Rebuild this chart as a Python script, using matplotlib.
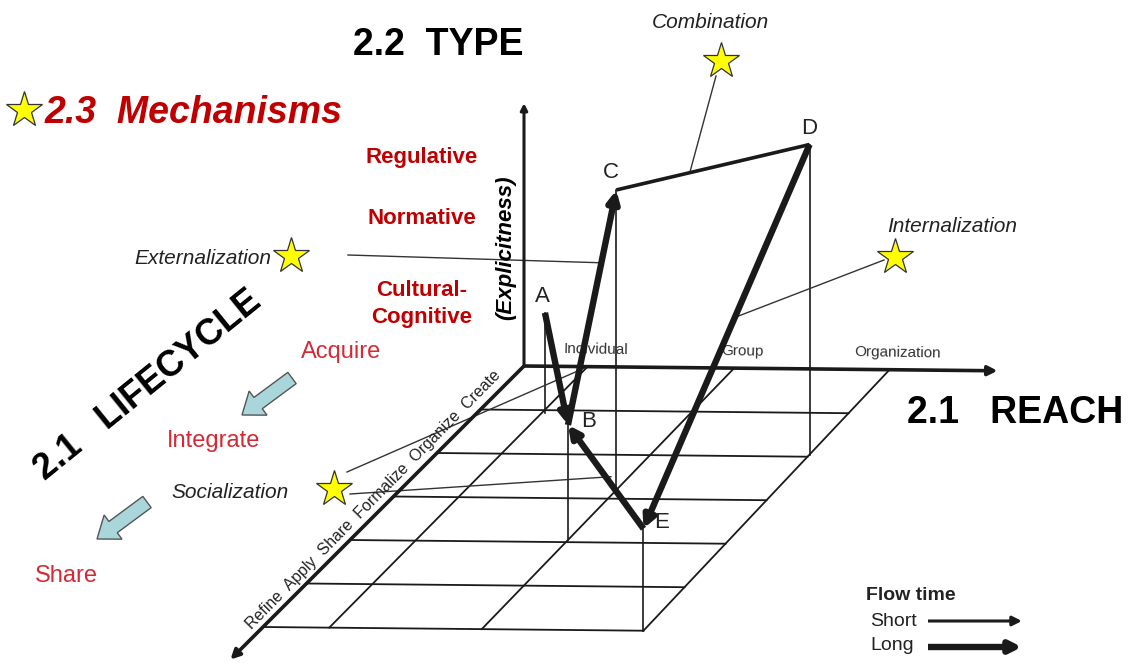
import matplotlib
matplotlib.use("Agg")
import matplotlib.pyplot as plt
from matplotlib.patches import FancyArrowPatch, FancyArrow

plt.rcParams["font.family"] = ["Liberation Sans", "DejaVu Sans"]

# ── data ─────────────────────────────────────────────────────────────────
# REACH axis ticks (reach units) and their names
reach_ticks = [0.0, 0.43, 1.42, 2.47]
reach_labels = ["", "Individual", "Group", "Organization"]
# LIFECYCLE axis: six rows of the floor grid
lifecycle_labels = ["Create", "Organize", "Formalize", "Share", "Apply", "Refine"]
n_rows = len(lifecycle_labels)

# knowledge path points: (reach, lifecycle, explicitness)
pt_names = ["A", "B", "C", "D", "E"]
pt_reach = [0.45, 1.42, 1.42, 2.47, 2.47]
pt_life = [1.06, 3.95, 2.80, 1.95, 6.00]
pt_expl = [1.00, 1.15, 3.00, 3.10, 1.02]

# path segments and their flow time
seg_from = ["A", "C", "B", "D", "E"]
seg_to = ["B", "D", "C", "E", "B"]
seg_flow = ["long", "short", "long", "long", "long"]

mechanisms = ["Regulative", "Normative", "Cultural-\nCognitive"]
lifecycle_steps = ["Acquire", "Integrate", "Share"]

# ── projection (oblique 3D → picture, slight widening towards the front) ─
ORIGIN = (524, 366)
UR = (148, 1.5)    # per reach unit
UL = (-43.5, 43.5) # per lifecycle row
UH = 100           # per explicitness unit
WIDEN = 0.0068     # reach scale growth per lifecycle row


def proj(r, l, h=0.0):
    k = 1 + WIDEN * l
    return (ORIGIN[0] + r * UR[0] * k + l * UL[0],
            ORIGIN[1] + r * UR[1] + l * UL[1] - h * UH)


pts = {n: (r, l, h) for n, r, l, h in zip(pt_names, pt_reach, pt_life, pt_expl)}
scr = {n: proj(*p) for n, p in pts.items()}


def along(a, b, t):
    (x0, y0), (x1, y1) = scr[a], scr[b]
    return x0 + t * (x1 - x0), y0 + t * (y1 - y0)


RED = "#c00000"
PINK = "#d42a36"
INK = "#1a1a1a"

fig = plt.figure(figsize=(11.31, 6.64), dpi=100)
ax = fig.add_axes([0, 0, 1, 1])
ax.set_xlim(0, 1131)
ax.set_ylim(664, 0)
ax.axis("off")

# ── floor grid ───────────────────────────────────────────────────────────
r_max = reach_ticks[-1]
for i in range(n_rows + 1):
    x0, y0 = proj(0, i)
    x1, y1 = proj(r_max, i)
    ax.plot([x0, x1], [y0, y1], color=INK, lw=1.3)
for r in reach_ticks[1:]:
    x0, y0 = proj(r, 0)
    x1, y1 = proj(r, n_rows)
    ax.plot([x0, x1], [y0, y1], color=INK, lw=1.3)


# ── axes ─────────────────────────────────────────────────────────────────
def arrow(p0, p1, lw, head=True, ms=14, color=INK, z=3):
    a = FancyArrowPatch(p0, p1, arrowstyle="-|>" if head else "-",
                        mutation_scale=ms, lw=lw, color=color,
                        shrinkA=0, shrinkB=0, zorder=z, capstyle="butt")
    ax.add_patch(a)


arrow(proj(0, 0), proj(0, 0, 2.63), 2.2, ms=10)
arrow(proj(0, 0), proj(3.2, 0), 2.6, ms=14)
arrow(proj(0, 0), proj(0, 6.75), 2.6, ms=14)

for r, lab in zip(reach_ticks, reach_labels):
    if lab:
        x, y = proj(r, 0)
        ax.text(x + 8, y - 17, lab, fontsize=11, color="#333333",
                ha="center", va="center", rotation=-1)

lx0, ly0 = proj(0, 0.15)
lx1, ly1 = proj(0, 6.3)
ax.text((lx0 + lx1) / 2 - 10, (ly0 + ly1) / 2 - 7,
        "  ".join(lifecycle_labels[::-1]), fontsize=11.5, color="#222222",
        ha="center", va="center", rotation=45.5)

# ── drop lines from the points to the floor ──────────────────────────────
for n, (r, l, h) in pts.items():
    x0, y0 = proj(r, l, h)
    x1, y1 = proj(r, l)
    ax.plot([x0, x1], [y0, y1], color=INK, lw=1.2)

# ── knowledge path ───────────────────────────────────────────────────────
for a, b, f in zip(seg_from, seg_to, seg_flow):
    if f == "long":
        arrow(scr[a], scr[b], 4.6, ms=17, z=5)
    else:
        arrow(scr[a], scr[b], 2.6, head=False, z=5)

label_off = {"A": (-3, -16), "B": (21, -3), "C": (-5, -17), "D": (0, -16), "E": (18, -6)}
for n in pt_names:
    x, y = scr[n]
    dx, dy = label_off[n]
    ax.text(x + dx, y + dy, n, fontsize=16, color="#222222",
            ha="center", va="center")

# ── leader lines + stars ─────────────────────────────────────────────────
LEAD = dict(color="#333333", lw=1.0)
star = dict(marker="*", ms=27, mfc="#ffff00", mec="#333333", mew=0.9,
            ls="none", zorder=6)

# Combination
cx, cy = along("C", "D", 0.38)
ax.plot([716, cx], [76, cy], **LEAD)
ax.plot([721], [61], **star)
ax.text(710, 22, "Combination", fontsize=15, style="italic",
        color="#222222", ha="center", va="center")

# Internalization
ix, iy = along("D", "E", 0.45)
ax.plot([884, ix], [260, iy], **LEAD)
ax.plot([895], [257], **star)
ax.text(952, 227, "Internalization", fontsize=15, style="italic",
        color="#222222", ha="center", va="center")

# Externalization
ex, ey = along("B", "C", 0.69)
ax.plot([348, ex], [255, ey], **LEAD)
ax.plot([291], [256], **star)
ax.text(271, 258, "Externalization", fontsize=15, style="italic",
        color="#222222", ha="right", va="center")

# Socialization
ux, uy = proj(reach_ticks[1], 0)
wx, wy = proj(1.3, 2.5)
ax.plot([347, ux], [472, uy], **LEAD)
ax.plot([350, wx], [494, wy], **LEAD)
ax.plot([334], [489], **star)
ax.text(230, 492, "Socialization", fontsize=15, style="italic",
        color="#222222", ha="center", va="center")

# ── titles ───────────────────────────────────────────────────────────────
ax.text(438, 45, "2.2  TYPE", fontsize=27, fontweight="bold",
        color="black", ha="center", va="center")
ax.text(1015, 413, "2.1   REACH", fontsize=27, fontweight="bold",
        color="black", ha="center", va="center")
ax.text(148, 385, "2.1   LIFECYCLE", fontsize=26, fontweight="bold",
        color="black", ha="center", va="center", rotation=39)
ax.plot([24], [110], **star)
ax.text(45, 113, "2.3  Mechanisms", fontsize=27, fontweight="bold",
        style="italic", color=RED, ha="left", va="center")
ax.text(506, 248, "(Explicitness)", fontsize=16, fontweight="bold",
        style="italic", color="black", ha="center", va="center", rotation=90)

for txt, y in zip(mechanisms, [157, 218, 304]):
    ax.text(422, y, txt, fontsize=16, fontweight="bold", color=RED,
            ha="center", va="center", linespacing=1.35)

for txt, (x, y) in zip(lifecycle_steps, [(341, 352), (214, 441), (66, 576)]):
    ax.text(x, y, txt, fontsize=17, color=PINK, ha="center", va="center")

for x, y in [(292, 378), (147, 502)]:
    ax.add_patch(FancyArrow(x, y, -50, 37, width=14, head_width=30,
                            head_length=20, length_includes_head=True,
                            fc="#a9d6da", ec="#555555", lw=1.0, zorder=4))

# ── flow time legend ─────────────────────────────────────────────────────
ax.text(866, 595, "Flow time", fontsize=14, fontweight="bold",
        color="#222222", ha="left", va="center")
ax.text(870, 621, "Short", fontsize=14, color="#222222", ha="left", va="center")
ax.text(870, 646, "Long", fontsize=14, color="#222222", ha="left", va="center")
arrow((928, 621), (1022, 621), 2.2, ms=14)
arrow((928, 647), (1022, 647), 4.6, ms=17)

fig.savefig("out.png", dpi=100, facecolor="white")
